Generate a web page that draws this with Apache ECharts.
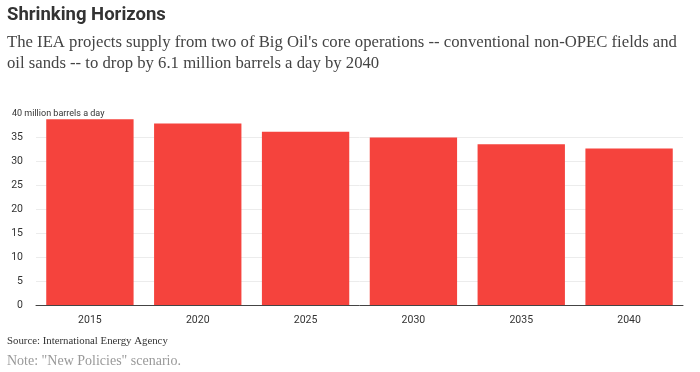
<!DOCTYPE html>
<html><head><meta charset="utf-8">
<script src="https://cdn.jsdelivr.net/npm/echarts@6/dist/echarts.min.js"></script>
<style>html,body{margin:0;padding:0;background:#fff}#c{width:700px;height:372px}</style>
</head><body><div id="c"></div>
<script>
var categories = ['2015', '2020', '2025', '2030', '2035', '2040'];
var supply = [38.7, 37.8, 36.1, 34.9, 33.5, 32.6];
var yTicks = [0, 5, 10, 15, 20, 25, 30, 35, 40];

var chart = echarts.init(document.getElementById('c'));
chart.setOption({
  animation: false,
  backgroundColor: '#fff',
  title: [
    { text: 'Shrinking Horizons', left: 2, top: 1,
      textStyle: { fontFamily: 'Roboto', fontWeight: 'bold', fontSize: 18.5, color: '#333' } },
    { text: "The IEA projects supply from two of Big Oil's core operations -- conventional non-OPEC fields and\noil sands -- to drop by 6.1 million barrels a day by 2040",
      left: 2, top: 27,
      textStyle: { fontFamily: 'Liberation Serif', fontWeight: 'normal', fontSize: 16.7, lineHeight: 21, color: '#444' } },
    { text: '40 million barrels a day', left: 7, top: 104,
      textStyle: { fontFamily: 'Roboto', fontWeight: 'normal', fontSize: 9, color: '#333' } },
    { text: 'Source: International Energy Agency', left: 2, top: 331,
      textStyle: { fontFamily: 'Liberation Serif', fontWeight: 'normal', fontSize: 10.8, color: '#333' } },
    { text: 'Note: "New Policies" scenario.', left: 2, top: 349,
      textStyle: { fontFamily: 'Liberation Serif', fontWeight: 'normal', fontSize: 14, color: '#999' } }
  ],
  grid: { left: 36, right: 17, top: 113, bottom: 67 },
  xAxis: {
    type: 'category',
    data: categories,
    axisLine: { lineStyle: { color: '#444', width: 1 } },
    axisTick: { alignWithLabel: true, length: 5, lineStyle: { color: '#444' } },
    axisLabel: { fontFamily: 'Roboto', fontSize: 10.5, color: '#333', margin: 10 }
  },
  yAxis: {
    type: 'value',
    min: yTicks[0], max: yTicks[yTicks.length - 1], interval: 5,
    axisLine: { show: false },
    axisTick: { show: false },
    splitLine: { showMaxLine: false, lineStyle: { color: '#ececec', width: 1 } },
    axisLabel: {
      fontFamily: 'Roboto', fontSize: 10.5, color: '#333', margin: 13,
      formatter: function (v) { return v === 40 ? '' : String(v); }
    }
  },
  series: [{
    type: 'bar',
    data: supply,
    barCategoryGap: '19%',
    itemStyle: { color: '#f5433d' }
  }]
});
</script></body></html>
